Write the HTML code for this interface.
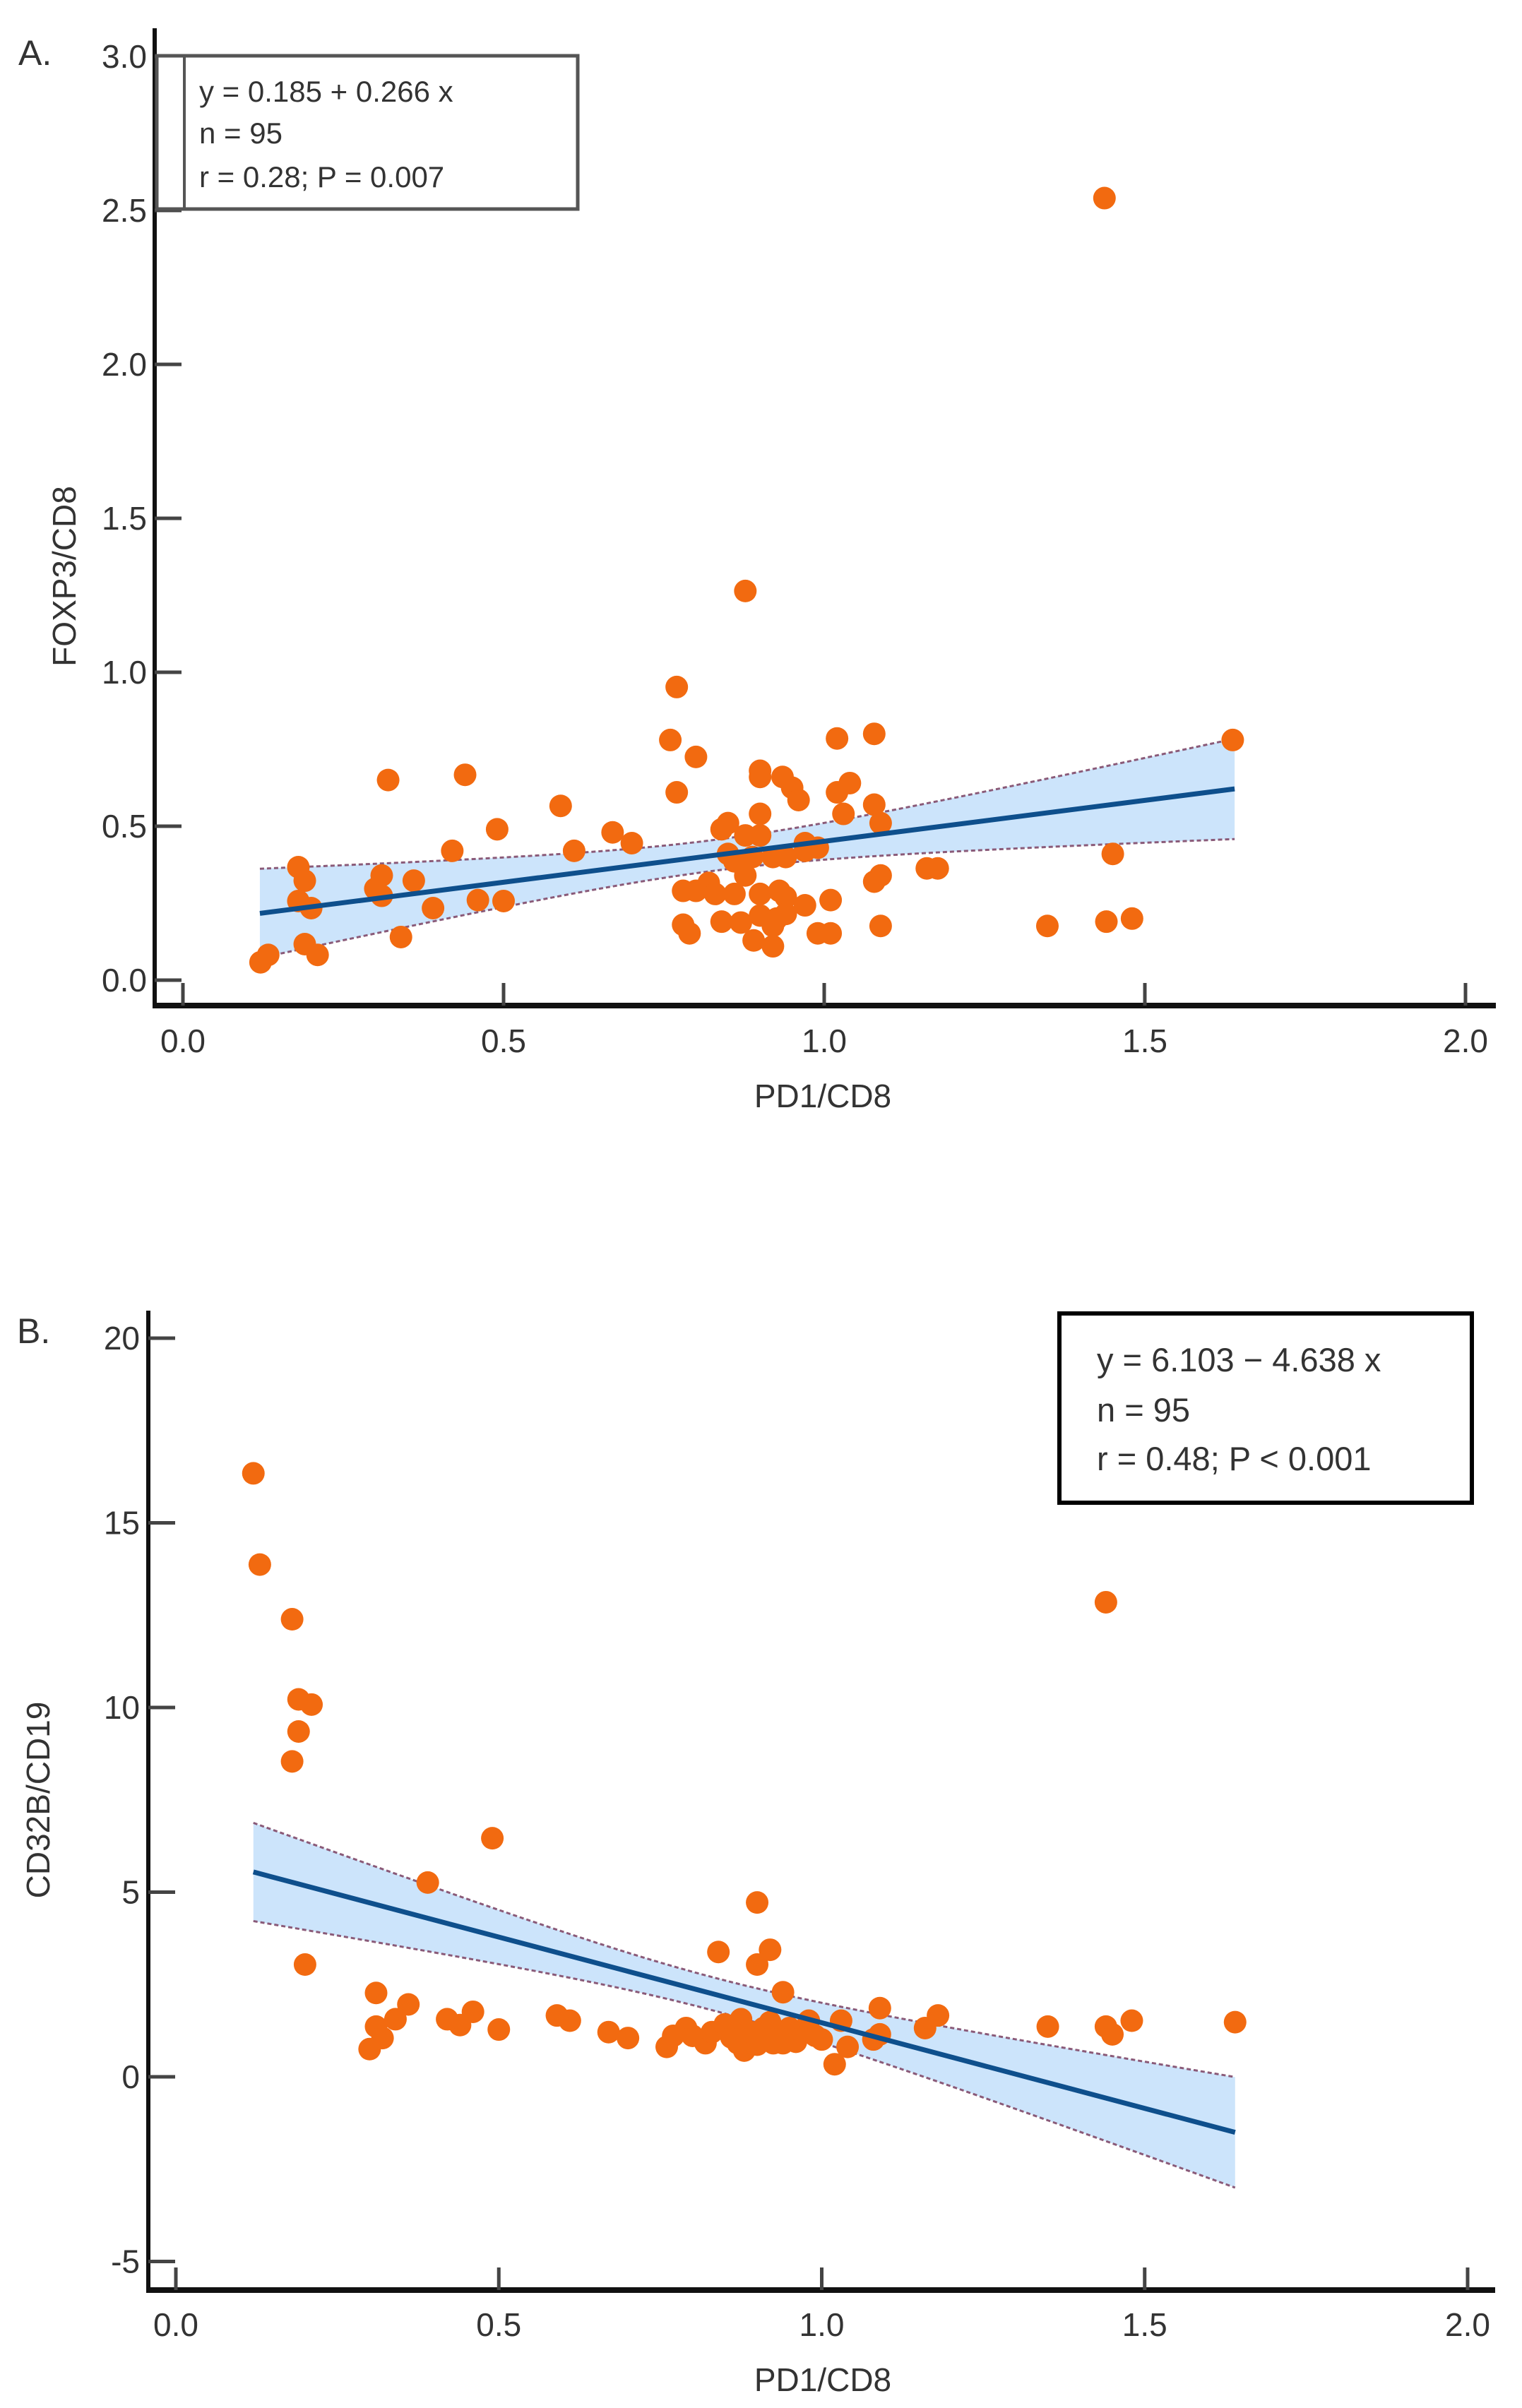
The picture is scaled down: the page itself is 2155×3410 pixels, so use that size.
<!DOCTYPE html>
<html><head><meta charset="utf-8">
<style>
html,body{margin:0;padding:0;background:#fff;}
svg{display:block;}
text{font-family:"Liberation Sans",sans-serif;fill:#333;}
</style></head>
<body>
<svg id="fig" width="2155" height="3410" viewBox="0 0 2155 3410" xmlns="http://www.w3.org/2000/svg">
<g id="pA"></g>
<g id="pB"></g>
</svg>
<script>
// Panel A data
const aX = [1.437,0.877,0.77,0.76,0.77,0.80,0.32,0.44,0.589,0.49,0.67,0.70,0.61,0.42,1.637,1.078,1.02,1.04,1.02,1.03,1.078,1.088,0.9,0.9,0.935,0.95,0.96,0.9,0.84,0.85,0.877,0.9,0.85,0.86,0.888,0.92,0.94,0.97,0.99,0.97,1.45,1.16,1.177,1.088,1.078,0.877,0.78,0.80,0.82,0.83,0.86,0.9,0.93,0.94,1.01,0.97,0.78,0.79,0.84,0.87,0.89,0.9,0.92,0.92,0.926,0.94,0.99,1.01,1.088,1.348,1.44,1.48,0.31,0.30,0.31,0.36,0.39,0.46,0.50,0.34,0.18,0.19,0.18,0.20,0.19,0.21,0.121,0.133];
const aY = [2.54,1.264,0.952,0.78,0.61,0.725,0.65,0.667,0.566,0.49,0.48,0.445,0.42,0.42,0.78,0.80,0.785,0.64,0.61,0.54,0.57,0.51,0.68,0.66,0.66,0.625,0.585,0.54,0.49,0.51,0.47,0.47,0.41,0.386,0.40,0.40,0.40,0.445,0.43,0.42,0.41,0.363,0.363,0.34,0.32,0.34,0.29,0.29,0.316,0.28,0.28,0.28,0.29,0.27,0.26,0.243,0.18,0.152,0.19,0.187,0.129,0.21,0.176,0.11,0.2,0.215,0.152,0.152,0.176,0.176,0.19,0.2,0.34,0.297,0.274,0.323,0.234,0.26,0.257,0.14,0.367,0.323,0.257,0.234,0.117,0.082,0.058,0.082];
const aXTicks = ["0.0","0.5","1.0","1.5","2.0"];
const aYTicks = ["0.0","0.5","1.0","1.5","2.0","2.5","3.0"];
const aFit = [0.185, 0.266];
const aCI = [0.0025, 0.0367, 0.83];
const aRange = [0.12, 1.64];
// Panel B data
const bX = [0.12,0.13,0.18,0.19,0.21,0.19,0.18,0.20,0.49,0.39,0.31,0.30,0.31,0.32,0.34,0.36,0.42,0.44,0.46,0.50,0.59,0.61,0.67,0.70,0.9,0.84,0.92,0.9,0.94,1.09,1.18,1.16,1.35,1.44,1.45,1.48,1.64,1.44,1.02,1.04,1.03,1.08,1.09,0.76,0.77,0.79,0.80,0.82,0.83,0.85,0.86,0.87,0.875,0.88,0.89,0.90,0.91,0.92,0.925,0.94,0.95,0.96,0.97,0.98,0.99,1.0,0.87,0.9,0.92,0.94];
const bY = [16.34,13.87,12.39,10.22,10.08,9.35,8.54,3.04,6.46,5.26,2.27,0.75,1.36,1.05,1.56,1.96,1.56,1.4,1.76,1.28,1.66,1.52,1.21,1.05,4.72,3.38,3.44,3.04,2.29,1.86,1.66,1.32,1.36,1.36,1.15,1.52,1.48,12.85,0.34,0.81,1.52,1.01,1.15,0.81,1.11,1.32,1.11,0.91,1.21,1.42,1.07,0.91,1.56,0.71,1.21,1.01,1.32,1.48,0.91,1.11,1.32,0.95,1.21,1.52,1.11,1.01,1.21,0.87,1.15,0.91];
const bXTicks = ["0.0","0.5","1.0","1.5","2.0"];
const bYTicks = ["-5","0","5","10","15","20"];
const bFit = [6.103, -4.638];
const bCI = [0.2, 3.11, 0.83];
const bRange = [0.12, 1.64];

const NS="http://www.w3.org/2000/svg";
function mk(parent,tag,attrs,txt){const e=document.createElementNS(NS,tag);for(const k in attrs)e.setAttribute(k,attrs[k]);if(txt!==undefined)e.textContent=txt;parent.appendChild(e);return e;}

function panel(g,cfg){
  const sx=v=>cfg.x0+(v-cfg.xmin)/(cfg.xmax-cfg.xmin)*(cfg.x1-cfg.x0);
  const sy=v=>cfg.y0+(v-cfg.ymin)/(cfg.ymax-cfg.ymin)*(cfg.y1-cfg.y0);
  // band
  const N=40,up=[],lo=[];
  for(let i=0;i<=N;i++){const x=cfg.range[0]+(cfg.range[1]-cfg.range[0])*i/N;
    const yh=cfg.fit[0]+cfg.fit[1]*x;const h=Math.sqrt(cfg.ci[0]+cfg.ci[1]*(x-cfg.ci[2])**2);
    up.push([sx(x),sy(yh+h)]);lo.push([sx(x),sy(yh-h)]);}
  const band=mk(g,"path",{d:"M"+up.map(p=>p.join(",")).join("L")+"L"+lo.slice().reverse().map(p=>p.join(",")).join("L")+"Z",fill:"#cce4fb",stroke:"none"});
  
  
  const ul=mk(g,"polyline",{points:up.map(p=>p.join(",")).join(" "),fill:"none",stroke:"#8a5a78","stroke-width":3,"stroke-dasharray":"6,4"});
  
  
  const ll=mk(g,"polyline",{points:lo.map(p=>p.join(",")).join(" "),fill:"none",stroke:"#8a5a78","stroke-width":3,"stroke-dasharray":"6,4"});
  
  
  // points
  for(let i=0;i<cfg.xs.length;i++){
    const c=mk(g,"ellipse",{cx:sx(cfg.xs[i]),cy:sy(cfg.ys[i]),rx:16,ry:16,fill:"#f26a10"});
    
    
  }
  // regression line
  const rl=mk(g,"line",{x1:sx(cfg.range[0]),y1:sy(cfg.fit[0]+cfg.fit[1]*cfg.range[0]),x2:sx(cfg.range[1]),y2:sy(cfg.fit[0]+cfg.fit[1]*cfg.range[1]),stroke:"#0e4f8c","stroke-width":7});
  
  
  // axes
  const ya=mk(g,"line",{x1:cfg.ax,y1:cfg.ytop,x2:cfg.ax,y2:cfg.ay+3,stroke:"#111","stroke-width":6});
  
  
  const xa=mk(g,"line",{x1:cfg.ax-3,y1:cfg.ay,x2:cfg.axr,y2:cfg.ay,stroke:"#111","stroke-width":8});
  
  
  cfg.xt.forEach(t=>{const x=sx(parseFloat(t));
    mk(g,"line",{x1:x,y1:cfg.ay,x2:x,y2:cfg.ay-32,stroke:"#444","stroke-width":5});
    const tl=mk(g,"text",{x:x,y:cfg.xly,"text-anchor":"middle","font-size":46},t);
    
    });
  cfg.yt.forEach(t=>{const y=sy(parseFloat(t));
    mk(g,"line",{x1:cfg.ax,y1:y,x2:cfg.ax+38,y2:y,stroke:"#444","stroke-width":5});
    const tl=mk(g,"text",{x:cfg.ylx,y:y+16,"text-anchor":"end","font-size":46},t);
    
    });
  const xt=mk(g,"text",{x:1165,y:cfg.xty,"text-anchor":"middle","font-size":46},cfg.xtitle);
  
  
  const yt=mk(g,"text",{x:cfg.ytx,y:cfg.yty,"text-anchor":"middle","font-size":46,transform:`rotate(-90 ${cfg.ytx} ${cfg.yty})`},cfg.ytitle);
  
  
  const pl=mk(g,"text",{x:cfg.plx,y:cfg.ply,"font-size":50,fill:"#222"},cfg.label);
  
  
}

panel(document.getElementById("pA"),{xs:aX,ys:aY,xt:aXTicks,yt:aYTicks,fit:aFit,ci:aCI,range:aRange,
  xmin:0,xmax:2,x0:259,x1:2075,ymin:0,ymax:3,y0:1388,y1:80,ax:219,ay:1424,axr:2118,ytop:40,
  xly:1490,ylx:208,xty:1568,xtitle:"PD1/CD8",ytx:107,yty:816,ytitle:"FOXP3/CD8",plx:26,ply:92,label:"A."});
panel(document.getElementById("pB"),{xs:bX,ys:bY,xt:bXTicks,yt:bYTicks,fit:bFit,ci:bCI,range:bRange,
  xmin:0,xmax:2,x0:249,x1:2078,ymin:0,ymax:20,y0:2941,y1:1895,ax:210,ay:3243,axr:2117,ytop:1856,
  xly:3308,ylx:198,xty:3386,xtitle:"PD1/CD8",ytx:70,yty:2549,ytitle:"CD32B/CD19",plx:24,ply:1902,label:"B."});

// annotation boxes
const svg=document.getElementById("fig");
const boxA=mk(svg,"g",{});


mk(boxA,"rect",{x:222,y:79,width:596,height:217,fill:"#fff",stroke:"#555","stroke-width":5});
mk(boxA,"line",{x1:261,y1:79,x2:261,y2:296,stroke:"#555","stroke-width":4});
mk(boxA,"text",{x:282,y:144,"font-size":42},"y = 0.185 + 0.266 x");
mk(boxA,"text",{x:282,y:203,"font-size":42},"n = 95");
mk(boxA,"text",{x:282,y:265,"font-size":42},"r = 0.28; P = 0.007");
const boxB=mk(svg,"g",{});


mk(boxB,"rect",{x:1500,y:1860,width:584,height:268,fill:"#fff",stroke:"#000","stroke-width":6});
mk(boxB,"text",{x:1553,y:1942,"font-size":47,fill:"#111"},"y = 6.103 − 4.638 x");
mk(boxB,"text",{x:1553,y:2013,"font-size":47,fill:"#111"},"n =  95");
mk(boxB,"text",{x:1553,y:2082,"font-size":47,fill:"#111"},"r = 0.48; P < 0.001");
</script>
</body></html>
